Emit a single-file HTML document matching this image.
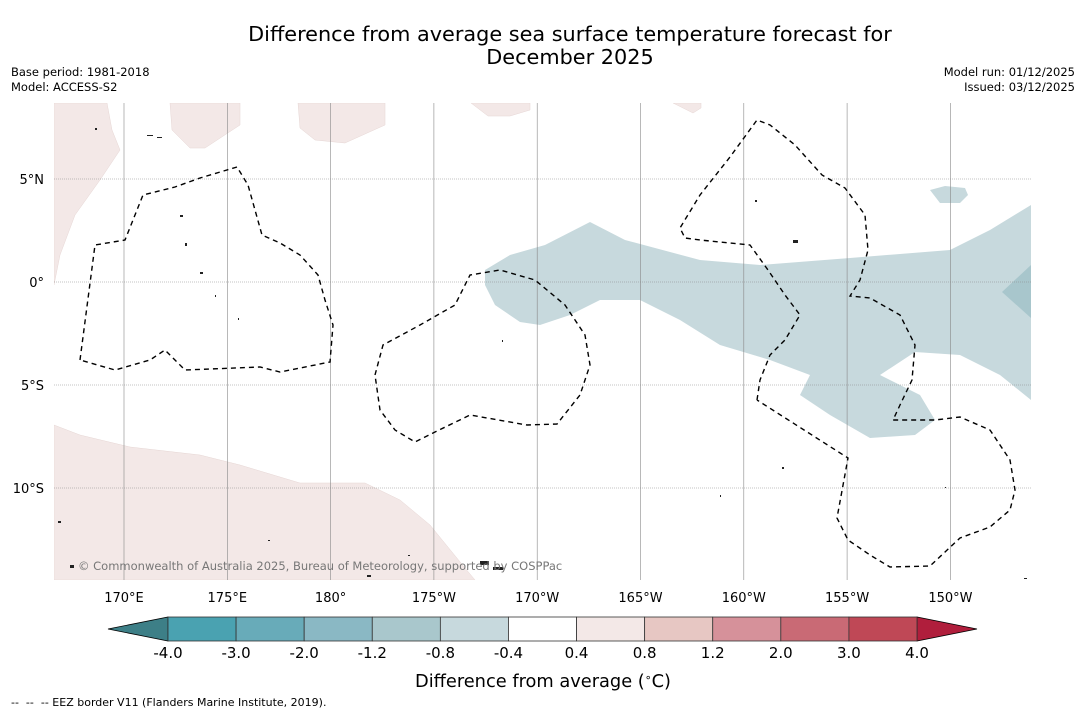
<!DOCTYPE html>
<html><head><meta charset="utf-8">
<style>
body{margin:0;background:#fff;width:1085px;height:713px;overflow:hidden;font-family:"DejaVu Sans","Liberation Sans",sans-serif;}
svg{display:block}
text{font-family:"DejaVu Sans","Liberation Sans",sans-serif;}
</style></head>
<body>
<svg id="chart" width="1085" height="713">
  <text x="570" y="41" font-size="20.8" text-anchor="middle">Difference from average sea surface temperature forecast for</text>
  <text x="570" y="64" font-size="20.8" text-anchor="middle">December 2025</text>
  <text x="11" y="76" font-size="11.5">Base period: 1981-2018</text>
  <text x="11" y="91" font-size="11.5">Model: ACCESS-S2</text>
  <text x="1075" y="76" font-size="11.5" text-anchor="end">Model run: 01/12/2025</text>
  <text x="1075" y="91" font-size="11.5" text-anchor="end">Issued: 03/12/2025</text>

  <g id="map">
    <clipPath id="clip"><rect x="54" y="103" width="977" height="477"/></clipPath>
    <g clip-path="url(#clip)">
      <g fill="#f3e8e7" stroke="#e6d6d4" stroke-width="0.5">
        <polygon points="54,103 107,103 112,130 120,150 100,180 75,215 60,255 54,285"/>
        <polygon points="170,103 240,103 240,125 205,148 190,148 172,130"/>
        <polygon points="298,103 385,103 385,125 345,143 315,140 300,128"/>
        <polygon points="471,103 530,103 530,110 510,116 488,116"/>
        <polygon points="673,103 701,103 701,108 693,113"/>
        <polygon points="54,425 80,435 130,447 200,455 240,465 300,483 365,483 400,500 430,525 465,568 475,580 54,580"/>
      </g>
      <g>
        <polygon fill="#c7d9dd" points="485,270 510,255 545,245 590,222 625,240 700,260 760,265 850,258 950,250 990,230 1031,205 1031,400 1000,375 960,355 915,352 880,375 920,395 935,420 915,435 870,438 830,415 800,395 810,375 770,360 720,345 680,320 640,300 600,300 570,315 540,325 520,322 495,305 485,285"/>
        <polygon fill="#c7d9dd" points="930,190 945,186 965,188 968,195 960,203 940,203"/>
        <polygon fill="#a8c6cc" points="1031,265 1002,292 1031,318"/>
      </g>
      <g id="grid" stroke="#888" stroke-width="0.6"></g>
      <g fill="none" stroke="#000" stroke-width="1.4" stroke-dasharray="5,4">
        <polyline points="80,360 95,245 125,240 143,195 175,187 200,178 237,167 248,185 255,210 262,235 280,243 300,255 318,275 325,300 333,325 330,362 280,372 260,367 185,370 165,350 150,360 115,370 80,360"/>
        <polyline points="375,375 383,345 420,325 455,305 470,275 500,270 535,280 565,305 585,335 590,365 580,395 557,424 527,425 470,415 435,432 415,442 395,430 380,410 375,375"/>
        <polyline points="757,400 760,380 770,355 785,340 800,315 785,295 768,270 750,245 700,240 685,238 680,228 700,195 730,157 757,120 770,125 795,145 822,175 845,188 865,215 868,250 860,280 850,296 870,298 900,315 915,345 912,380 900,405 893,420 917,420 935,420 960,417 990,430 1010,460 1015,490 1010,510 990,527 960,538 930,566 890,567 870,555 848,540 837,518 848,458 757,400"/>
      </g>
      <g fill="#222">
        <rect x="95" y="128" width="2" height="2"/><rect x="147" y="135" width="6" height="1"/><rect x="157" y="137" width="5" height="1"/><rect x="180" y="215" width="3" height="2"/>
        <rect x="185" y="243" width="2" height="3"/><rect x="200" y="272" width="3" height="2"/><rect x="215" y="295" width="1" height="2"/>
        <rect x="238" y="318" width="1" height="2"/><rect x="502" y="340" width="1" height="2"/><rect x="755" y="200" width="2" height="2"/>
        <rect x="793" y="240" width="5" height="3"/><rect x="782" y="467" width="2" height="2"/><rect x="720" y="495" width="1" height="2"/>
        <rect x="58" y="521" width="3" height="2"/><rect x="70" y="565" width="4" height="3"/><rect x="480" y="561" width="9" height="4"/>
        <rect x="493" y="567" width="10" height="3"/><rect x="367" y="575" width="4" height="2"/><rect x="1024" y="578" width="3" height="1"/>
        <rect x="945" y="487" width="1" height="1"/><rect x="268" y="540" width="2" height="1"/><rect x="408" y="555" width="2" height="1"/>
      </g>
    </g>
    <text x="78" y="570" font-size="11.5" fill="#777">© Commonwealth of Australia 2025, Bureau of Meteorology, supported by COSPPac</text>
    <g id="xlabels" font-size="13" text-anchor="middle"></g>
    <g id="ylabels" font-size="13" text-anchor="end"></g>
  </g>

  <g id="colorbar"></g>
  <text x="543" y="687" font-size="17.8" text-anchor="middle">Difference from average (<tspan font-size="11" dy="-6">∘</tspan><tspan dy="6">C)</tspan></text>
  <text x="11" y="706" font-size="11">--&#160;&#160;--&#160;&#160;-- EEZ border V11 (Flanders Marine Institute, 2019).</text>
</svg>
<script>
const lonTicks=[170,175,180,-175,-170,-165,-160,-155,-150];
const lonLabels=["170°E","175°E","180°","175°W","170°W","165°W","160°W","155°W","150°W"];
const latTicks=[5,0,-5,-10];
const latLabels=["5°N","0°","5°S","10°S"];
const cbBounds=["-4.0","-3.0","-2.0","-1.2","-0.8","-0.4","0.4","0.8","1.2","2.0","3.0","4.0"];
const cbColors=["#4aa2b1","#68abb9","#8ab8c4","#a9c7cc","#c7d9dd","#ffffff","#f3e8e7","#e7c7c3","#d6919a","#c96a75","#bf4856"];
const cbUnder="#3d7f87", cbOver="#b01e3c";

const NS="http://www.w3.org/2000/svg";
function mk(t,a,p){const e=document.createElementNS(NS,t);for(const k in a)e.setAttribute(k,a[k]);p.appendChild(e);return e;}
function xLon(l){const d=l<0?l+360:l;return 124+(d-170)*20.66;}
function yLat(l){return 282-l*20.6;}
const grid=document.getElementById('grid');
const xl=document.getElementById('xlabels'), yl=document.getElementById('ylabels');
lonTicks.forEach((l,i)=>{
  const x=xLon(l);
  const ln=mk('line',{x1:x,x2:x,y1:103,y2:580},grid);
  
  
  const t=mk('text',{x:x,y:602},xl);t.textContent=lonLabels[i];
  
  
});
latTicks.forEach((l,i)=>{
  const y=yLat(l);
  const ln=mk('line',{x1:54,x2:1031,y1:y,y2:y,'stroke-dasharray':'1,1'},grid);
  
  
  const t=mk('text',{x:44,y:y+5},yl);t.textContent=latLabels[i];
  
  
});
const cb=document.getElementById('colorbar');
const x0=168,x1=917,y0=617,y1=641,w=(x1-x0)/cbColors.length;
const under=mk('polygon',{points:`${x0},${y0} ${x0},${y1} 108,${(y0+y1)/2}`,fill:cbUnder,stroke:'#000','stroke-width':0.8},cb);


const over=mk('polygon',{points:`${x1},${y0} ${x1},${y1} 977,${(y0+y1)/2}`,fill:cbOver,stroke:'#000','stroke-width':0.8},cb);


cbColors.forEach((c,i)=>{
  const r=mk('rect',{x:x0+i*w,y:y0,width:w,height:y1-y0,fill:c,stroke:'#333','stroke-width':0.8},cb);
  
  
});
cbBounds.forEach((b,i)=>{
  const t=mk('text',{x:x0+i*w,y:658,'font-size':15,'text-anchor':'middle'},cb);t.textContent=b;
  
  
});
</script>
</body></html>
